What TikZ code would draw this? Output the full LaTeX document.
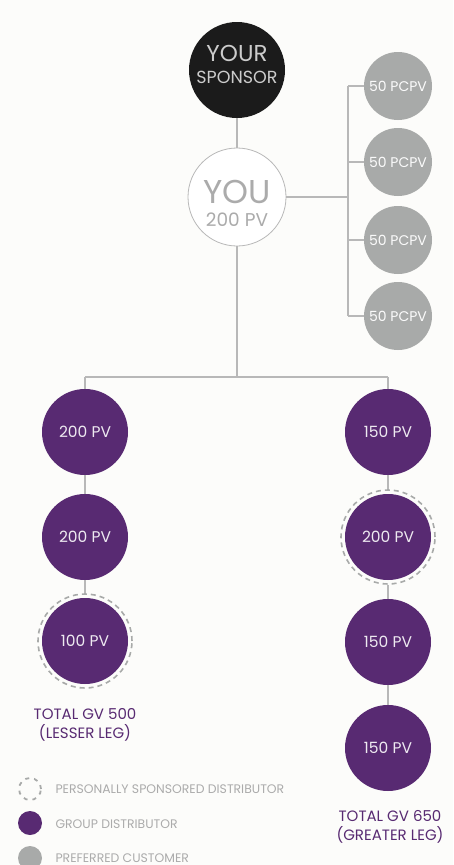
\documentclass[tikz,border=0pt]{standalone}
\usepackage{fontspec}
\setmainfont{Poppins}
\definecolor{bgc}{HTML}{FCFCFA}
\definecolor{purp}{HTML}{582A72}
\definecolor{pcgray}{HTML}{A8AAA9}
\definecolor{lngray}{HTML}{B8B8B8}
\definecolor{spblack}{HTML}{1B1B1B}
\definecolor{txtgray}{HTML}{ABABAB}
\begin{document}
\begin{tikzpicture}[x=1pt,y=-1pt,
  conn/.style={draw=lngray,line width=1.6pt},
  dist/.style={circle,fill=purp,minimum size=86pt,inner sep=0pt,text=white!90!purp,font=\fontsize{15.5}{18}\selectfont},
  pc/.style={circle,fill=pcgray,minimum size=68pt,inner sep=0pt,text=white!95!pcgray,font=\fontsize{14}{16}\selectfont},
  ring/.style={circle,draw=pcgray,dashed,dash pattern=on 5pt off 4pt,line width=1.6pt,minimum size=94pt,inner sep=0pt},
  legtxt/.style={anchor=west,text=txtgray,font=\fontsize{12.4}{14}\selectfont},
  total/.style={align=center,text=purp,font=\fontsize{15}{19}\selectfont},
  lbl/.style={anchor=base,inner sep=0pt,text depth=0pt}]
\useasboundingbox (0,0) rectangle (453,865);
\fill[bgc] (0,0) rectangle (453,865);
% top nodes
\node[circle,fill=spblack,minimum size=96pt,inner sep=0pt] (sp) at (237,70) {};
\node[lbl,text=white!80!black,font=\fontsize{23}{24}\selectfont] (spa) at (237,61) {YOUR};
\node[lbl,text=white!80!black,font=\fontsize{17.5}{19}\selectfont] (spb) at (237,83) {SPONSOR};
\node[circle,draw=lngray,line width=0.8pt,fill=white,minimum size=98pt,inner sep=0pt] (you) at (237,197) {};
\node[lbl,text=txtgray,font=\fontsize{33}{34}\selectfont] (youa) at (237,203) {YOU};
\node[lbl,text=txtgray,font=\fontsize{18.5}{20}\selectfont,text height=13pt] (youb) at (237,226) {200 PV};
% preferred customers
\node[pc] (p1) at (398,86) {50 PCPV};
\node[pc] (p2) at (398,162) {50 PCPV};
\node[pc] (p3) at (398,240) {50 PCPV};
\node[pc] (p4) at (398,316) {50 PCPV};
% distributors
\node[dist] (l1) at (85,432) {200 PV};
\node[dist] (l2) at (85,537) {200 PV};
\node[dist] (l3) at (85,641) {100 PV};
\node[dist] (r1) at (388,432) {150 PV};
\node[dist] (r2) at (388,537) {200 PV};
\node[dist] (r3) at (388,642) {150 PV};
\node[dist] (r4) at (388,748) {150 PV};
\node[ring] (l3ring) at (l3) {};
\node[ring] (r2ring) at (r2) {};
% coordinates
\coordinate (pbus) at (348,197);
\coordinate (pb1) at (348,86);
\coordinate (pb4) at (348,316);
\coordinate (dbus) at (237,377);
\coordinate (dl) at (85,377);
\coordinate (dr) at (388,377);
% connectors
\draw[conn] (sp.south) -- (you.north);
\draw[conn] (you.east) -- (pbus);
\draw[conn] (pb1) -- (pb4);
\draw[conn] (pb1) -- (p1.west);
\draw[conn] (pbus |- p2) -- (p2.west);
\draw[conn] (pbus |- p3) -- (p3.west);
\draw[conn] (pb4) -- (p4.west);
\draw[conn] (you.south) -- (dbus);
\draw[conn] (dl) -- (dr);
\draw[conn] (dl) -- (l1.north);
\draw[conn] (dr) -- (r1.north);
\draw[conn] (l1.south) -- (l2.north);
\draw[conn] (l2.south) -- (l3ring.north);
\draw[conn] (r1.south) -- (r2ring.north);
\draw[conn] (r2ring.south) -- (r3.north);
\draw[conn] (r3.south) -- (r4.north);
% totals
\node[total] (t1) at (85,725) {TOTAL GV 500\\(LESSER LEG)};
\node[total] (t2) at (390,827) {TOTAL GV 650\\(GREATER LEG)};
% legend
\node[circle,draw=pcgray,line width=1.8pt,dash pattern=on 4pt off 5pt,minimum size=22pt,inner sep=0pt] (k1) at (30,789) {};
\node[circle,fill=purp,minimum size=24pt,inner sep=0pt] (k2) at (30,823) {};
\node[circle,fill=pcgray,minimum size=24pt,inner sep=0pt] (k3) at (30,858) {};
\node[legtxt] (k1t) at (52,789) {PERSONALLY SPONSORED DISTRIBUTOR};
\node[legtxt] (k2t) at (52,824) {GROUP DISTRIBUTOR};
\node[legtxt] (k3t) at (52,858) {PREFERRED CUSTOMER};
\end{tikzpicture}
\end{document}
